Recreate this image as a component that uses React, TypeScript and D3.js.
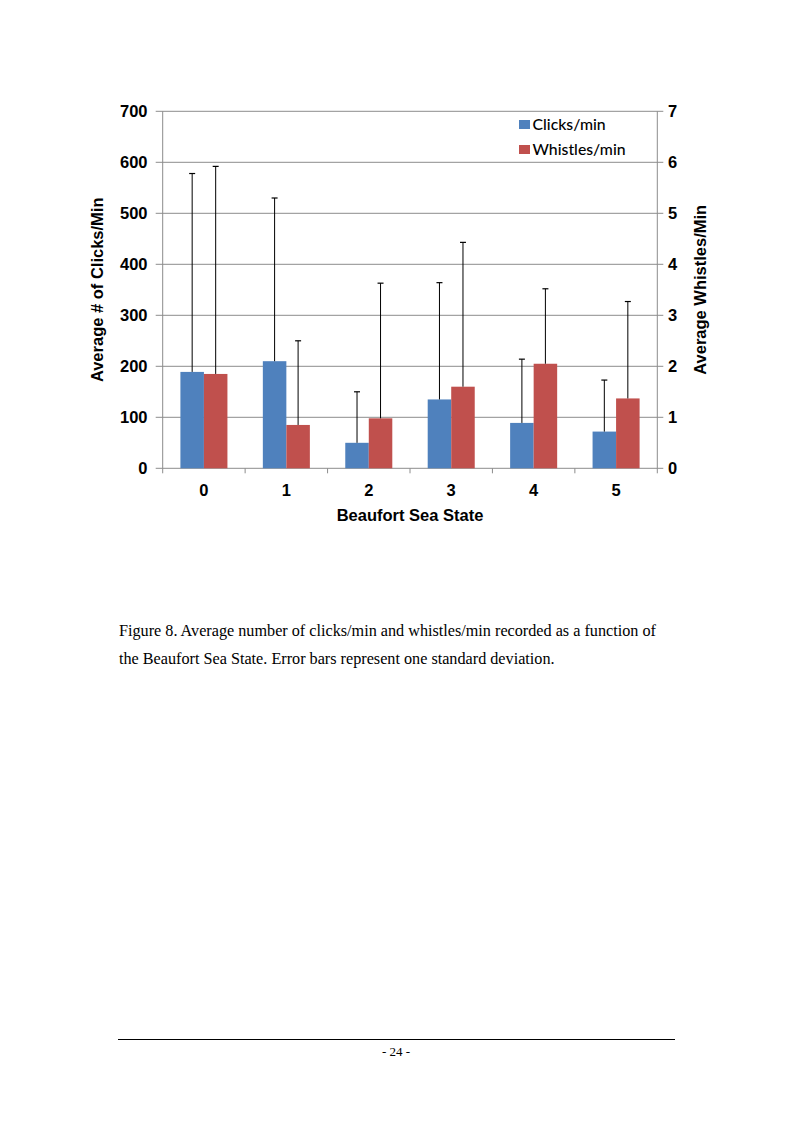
import React from "react";
import * as d3 from "d3";

const categories = ["0", "1", "2", "3", "4", "5"];
const clicksMean = [189, 210, 50, 135, 89, 72];
const clicksSD = [389, 320, 100, 229, 125, 101];
const whistlesMean = [1.85, 0.85, 0.98, 1.6, 2.05, 1.37];
const whistlesSD = [4.07, 1.65, 2.65, 2.83, 1.47, 1.9];
const leftTicks = [0, 100, 200, 300, 400, 500, 600, 700];
const rightTicks = [0, 1, 2, 3, 4, 5, 6, 7];
const seriesNames = ["Clicks/min", "Whistles/min"];
const seriesColors = ["#4F81BD", "#C0504D"];

const captionLines = [
  "Figure 8. Average number of clicks/min and whistles/min recorded as a function of",
  "the Beaufort Sea State. Error bars represent one standard deviation.",
];

export default function App() {
  const plotL = 162.7, plotR = 657.3, plotT = 111.3, plotB = 468.3;
  const yL = d3.scaleLinear().domain([0, 700]).range([plotB, plotT]);
  const yR = d3.scaleLinear().domain([0, 7]).range([plotB, plotT]);
  const x = d3.scaleBand().domain(categories).range([plotL, plotR]);
  const sub = d3.scaleBand().domain(["c", "w"]).range([0, x.bandwidth()]).paddingInner(0).paddingOuter(0.753);
  const axisFont = "Liberation Sans, Arial, sans-serif";
  const gridColor = "#8c8c8c";

  return (
    <svg width={794} height={1123} style={{ position: "absolute", left: 0, top: 0, background: "#fff" }}>
      <rect x={0} y={0} width={794} height={1123} fill="#fff" />
      {leftTicks.map((t) => (
        <line key={"g" + t} x1={plotL - 7} x2={plotR + 6} y1={yL(t)} y2={yL(t)} stroke={gridColor} strokeWidth={1} />
      ))}
      <line x1={plotL} x2={plotL} y1={plotT} y2={plotB} stroke={gridColor} strokeWidth={1} />
      <line x1={plotR} x2={plotR} y1={plotT} y2={plotB} stroke={gridColor} strokeWidth={1} />
      {d3.range(categories.length + 1).map((i) => {
        const xx = plotL + i * x.step();
        return <line key={"xt" + i} x1={xx} x2={xx} y1={plotB} y2={plotB + 5} stroke={gridColor} strokeWidth={1} />;
      })}
      {categories.map((c, i) => {
        const bx = x(c)! + sub("c")!;
        const wx = x(c)! + sub("w")!;
        const bw = sub.bandwidth();
        return (
          <g key={"b" + c}>
            <rect x={bx} y={yL(clicksMean[i])} width={bw} height={plotB - yL(clicksMean[i])} fill={seriesColors[0]} />
            <rect x={wx} y={yR(whistlesMean[i])} width={bw} height={plotB - yR(whistlesMean[i])} fill={seriesColors[1]} />
            <line x1={bx + bw / 2} x2={bx + bw / 2} y1={yL(clicksMean[i])} y2={yL(clicksMean[i] + clicksSD[i])} stroke="#000" strokeWidth={1} />
            <line x1={bx + bw / 2 - 3} x2={bx + bw / 2 + 3} y1={yL(clicksMean[i] + clicksSD[i])} y2={yL(clicksMean[i] + clicksSD[i])} stroke="#000" strokeWidth={1.2} />
            <line x1={wx + bw / 2} x2={wx + bw / 2} y1={yR(whistlesMean[i])} y2={yR(whistlesMean[i] + whistlesSD[i])} stroke="#000" strokeWidth={1} />
            <line x1={wx + bw / 2 - 3} x2={wx + bw / 2 + 3} y1={yR(whistlesMean[i] + whistlesSD[i])} y2={yR(whistlesMean[i] + whistlesSD[i])} stroke="#000" strokeWidth={1.2} />
          </g>
        );
      })}
      {leftTicks.map((t) => (
        <text key={"lt" + t} x={147.5} y={yL(t)} dy="0.36em" textAnchor="end" fontFamily={axisFont} fontWeight="bold" fontSize={16.5} fill="#000">
          {t}
        </text>
      ))}
      {rightTicks.map((t) => (
        <text key={"rt" + t} x={668} y={yR(t)} dy="0.36em" textAnchor="start" fontFamily={axisFont} fontWeight="bold" fontSize={16.5} fill="#000">
          {t}
        </text>
      ))}
      {categories.map((c) => (
        <text key={"xl" + c} x={x(c)! + x.bandwidth() / 2} y={496} textAnchor="middle" fontFamily={axisFont} fontWeight="bold" fontSize={16.5} fill="#000">
          {c}
        </text>
      ))}
      <text x={(plotL + plotR) / 2} y={521} textAnchor="middle" fontFamily={axisFont} fontWeight="bold" fontSize={16.5} fill="#000">
        Beaufort Sea State
      </text>
      <text transform={`translate(103,${(plotT + plotB) / 2}) rotate(-90)`} textAnchor="middle" fontFamily={axisFont} fontWeight="bold" fontSize={16.5} fill="#000">
        Average # of Clicks/Min
      </text>
      <text transform={`translate(706,${(plotT + plotB) / 2}) rotate(-90)`} textAnchor="middle" fontFamily={axisFont} fontWeight="bold" fontSize={16.5} fill="#000">
        Average Whistles/Min
      </text>
      {seriesNames.map((n, i) => (
        <g key={"lg" + n} transform={`translate(519,${120 + i * 25})`}>
          <rect x={0} y={0} width={11} height={9} fill={seriesColors[i]} />
          <text x={13.5} y={9.5} fontFamily="Lato, Open Sans, sans-serif" fontSize={15.8} fontWeight={500} fill="#000">
            {n}
          </text>
        </g>
      ))}
      {captionLines.map((l, i) => (
        <text key={"cap" + i} x={119} y={636 + i * 28} fontFamily="Liberation Serif, Times New Roman, serif" fontSize={16.2} fill="#000">
          {l}
        </text>
      ))}
      <line x1={118} x2={675} y1={1039.5} y2={1039.5} stroke="#000" strokeWidth={1} />
      <text x={396} y={1056} textAnchor="middle" fontFamily="Liberation Serif, Times New Roman, serif" fontSize={13} fill="#000">
        - 24 -
      </text>
    </svg>
  );
}
